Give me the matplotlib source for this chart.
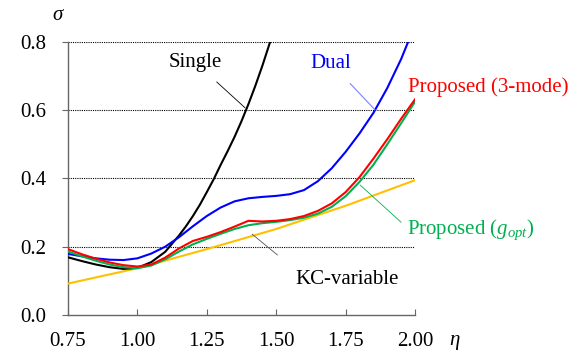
import numpy as np
import matplotlib.pyplot as plt

plt.rcParams['font.family'] = ['Liberation Serif', 'DejaVu Serif']
plt.rcParams['mathtext.fontset'] = 'custom'
plt.rcParams['mathtext.rm'] = 'Liberation Serif'
plt.rcParams['mathtext.it'] = 'Liberation Serif:italic'

# ---- data ----
eta_single = [0.75, 0.80, 0.85, 0.90, 0.95, 1.00, 1.05, 1.10, 1.15, 1.175, 1.20, 1.225,
              1.25, 1.275, 1.30, 1.325, 1.35, 1.375, 1.40, 1.425, 1.45, 1.478]
sig_single = [0.169, 0.158, 0.148, 0.140, 0.135, 0.138, 0.155, 0.185, 0.233, 0.260,
              0.290, 0.323, 0.360, 0.398, 0.440, 0.480, 0.522, 0.568, 0.618, 0.672,
              0.730, 0.800]

eta_dual = [0.75, 0.80, 0.85, 0.90, 0.95, 1.00, 1.05, 1.10, 1.15, 1.20, 1.25, 1.30,
            1.35, 1.40, 1.45, 1.50, 1.55, 1.60, 1.65, 1.70, 1.75, 1.80, 1.85, 1.90,
            1.95, 1.975]
sig_dual = [0.179, 0.172, 0.166, 0.162, 0.161, 0.166, 0.180, 0.200, 0.228, 0.260,
            0.290, 0.315, 0.333, 0.342, 0.346, 0.349, 0.354, 0.366, 0.392, 0.430,
            0.478, 0.532, 0.592, 0.665, 0.750, 0.800]

eta_prop = [0.75, 0.80, 0.85, 0.90, 0.95, 1.00, 1.05, 1.10, 1.15, 1.20, 1.25, 1.30,
            1.35, 1.40, 1.45, 1.50, 1.55, 1.60, 1.65, 1.70, 1.75, 1.80, 1.85, 1.90,
            1.95, 2.00]
sig_3mode = [0.193, 0.178, 0.165, 0.154, 0.146, 0.142, 0.148, 0.168, 0.195, 0.217,
             0.229, 0.243, 0.259, 0.276, 0.274, 0.276, 0.281, 0.290, 0.305, 0.327,
             0.360, 0.404, 0.458, 0.515, 0.575, 0.632]
sig_gopt = [0.186, 0.172, 0.159, 0.148, 0.140, 0.137, 0.145, 0.163, 0.186, 0.207,
            0.223, 0.238, 0.252, 0.263, 0.269, 0.273, 0.278, 0.285, 0.297, 0.317,
            0.348, 0.390, 0.440, 0.500, 0.562, 0.625]

eta_kc = [0.75, 1.00, 1.25, 1.50, 1.75, 2.00]
sig_kc = [0.092, 0.137, 0.193, 0.252, 0.320, 0.395]

x_ticks = [0.75, 1.00, 1.25, 1.50, 1.75, 2.00]
y_ticks = [0.0, 0.2, 0.4, 0.6, 0.8]

# ---- figure ----
fig = plt.figure(figsize=(5.79, 3.54), dpi=100)
ax = fig.add_axes([0.1174, 0.1102, 0.5994, 0.7712])

ax.set_xlim(0.75, 2.0)
ax.set_ylim(0.0, 0.8)
ax.set_xticks(x_ticks)
ax.set_xticklabels([f'{v:.2f}' for v in x_ticks])
ax.set_yticks(y_ticks)
ax.set_yticklabels([f'{v:.1f}' for v in y_ticks])

for s in ['top', 'right']:
    ax.spines[s].set_visible(False)
for s in ['left', 'bottom']:
    ax.spines[s].set_color('#666666')
    ax.spines[s].set_linewidth(1.0)
fs = 15
ax.tick_params(axis='y', direction='out', length=4.5, color='#666666', labelsize=fs, pad=11)
ax.tick_params(axis='x', direction='in', length=4.5, color='#666666', labelsize=fs, pad=12)

for v in y_ticks[1:]:
    ax.axhline(v, color='black', lw=0.8, ls=(0, (1, 1)), zorder=1)

lw = 1.5
ax.plot(eta_kc, sig_kc, color='#FFC000', lw=lw, zorder=3)
ax.plot(eta_single, sig_single, color='black', lw=lw, zorder=3)
ax.plot(eta_dual, sig_dual, color='#0000FF', lw=lw, zorder=3)
ax.plot(eta_prop, sig_gopt, color='#00B050', lw=lw, zorder=4)
ax.plot(eta_prop, sig_3mode, color='#FF0000', lw=lw, zorder=5)

# annotations with leader lines
ax.annotate('Single', xy=(1.388, 0.607), xytext=(1.2075, 0.741), fontsize=fs,
            ha='center', va='center', color='black',
            arrowprops=dict(arrowstyle='-', color='black', lw=0.6, shrinkA=8, shrinkB=0))
ax.annotate('Dual', xy=(1.856, 0.601), xytext=(1.697, 0.738), fontsize=fs,
            ha='center', va='center', color='#0000FF',
            arrowprops=dict(arrowstyle='-', color='#8080FF', lw=0.8, shrinkA=8, shrinkB=0))
ax.text(2.263, 0.668, 'Proposed (3-mode)', fontsize=fs, ha='center', va='center',
        color='#FF0000', clip_on=False)
ax.annotate('Proposed ($g_{opt}$)', xy=(1.802, 0.381), xytext=(1.971, 0.249), fontsize=fs,
            ha='left', va='center', color='#00B050', annotation_clip=False,
            arrowprops=dict(arrowstyle='-', color='#00B050', lw=0.6, shrinkA=3, shrinkB=0,
                            relpos=(0, 0.6)))
ax.annotate('KC-variable', xy=(1.413, 0.237), xytext=(1.755, 0.105), fontsize=fs,
            ha='center', va='center', color='black',
            arrowprops=dict(arrowstyle='-', color='#555555', lw=0.6, shrinkA=14, shrinkB=0,
                            relpos=(0, 1)))

fig.text(58 / 579, 1 - 15 / 354, r'$\sigma$', fontsize=fs, ha='center', va='center')
fig.text(455 / 579, 1 - 342 / 354, r'$\eta$', fontsize=fs, ha='center', va='center')

fig.savefig('out.png', dpi=100)
